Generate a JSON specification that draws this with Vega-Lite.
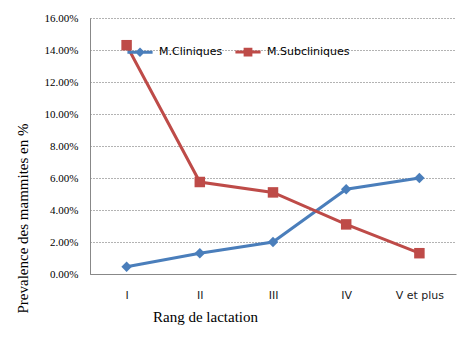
{
  "$schema": "https://vega.github.io/schema/vega-lite/v6.json",
  "width": 366,
  "height": 256,
  "autosize": {"type": "none"},
  "padding": {"left": 90, "top": 18, "right": 13, "bottom": 80},
  "background": "white",
  "config": {"view": {"stroke": null}},
  "data": {"values": [
    {"rang": "I", "serie": "M.Cliniques", "v": 0.0045},
    {"rang": "II", "serie": "M.Cliniques", "v": 0.013},
    {"rang": "III", "serie": "M.Cliniques", "v": 0.020},
    {"rang": "IV", "serie": "M.Cliniques", "v": 0.053},
    {"rang": "V et plus", "serie": "M.Cliniques", "v": 0.060},
    {"rang": "I", "serie": "M.Subcliniques", "v": 0.143},
    {"rang": "II", "serie": "M.Subcliniques", "v": 0.0575},
    {"rang": "III", "serie": "M.Subcliniques", "v": 0.051},
    {"rang": "IV", "serie": "M.Subcliniques", "v": 0.031},
    {"rang": "V et plus", "serie": "M.Subcliniques", "v": 0.013}
  ]},
  "encoding": {
    "x": {"field": "rang", "type": "ordinal", "sort": null,
      "scale": {"type": "point", "padding": 0.5},
      "axis": {"title": "Rang de lactation", "labelAngle": 0, "ticks": false, "grid": false,
        "domainColor": "#888", "labelFont": "DejaVu Sans", "labelFontSize": 11, "labelColor": "#222",
        "labelPadding": 15, "titleFont": "Liberation Serif", "titleFontSize": 15, "titleFontWeight": "normal",
        "titleColor": "#000", "titleX": 115, "titleY": 42, "titleBaseline": "middle", "titleAlign": "center"}},
    "y": {"field": "v", "type": "quantitative",
      "scale": {"domain": [0, 0.16]},
      "axis": {"title": "Prevalence  des mammites en %", "format": ".2%", "values": [0,0.02,0.04,0.06,0.08,0.10,0.12,0.14,0.16],
        "labelOverlap": false, "ticks": false, "domainColor": "#888", "gridColor": "#666", "gridDash": [1, 2], "gridOpacity": 1,
        "labelFont": "Liberation Serif", "labelFontSize": 11, "labelColor": "#000", "labelPadding": 12,
        "titleFont": "Liberation Serif", "titleFontSize": 15, "titleFontWeight": "normal", "titleColor": "#000",
        "titleAngle": -90, "titleX": -68, "titleY": 200, "titleAlign": "center", "titleBaseline": "middle"}},
    "color": {"field": "serie", "type": "nominal",
      "scale": {"domain": ["M.Cliniques", "M.Subcliniques"], "range": ["#4A7EBB", "#BE4B48"]}}
  },
  "layer": [
    {"mark": {"type": "line", "strokeWidth": 3},
     "encoding": {"color": {"field": "serie", "type": "nominal",
       "scale": {"domain": ["M.Cliniques", "M.Subcliniques"], "range": ["#4A7EBB", "#BE4B48"]},
       "legend": {"title": null, "orient": "none", "direction": "horizontal", "legendX": 43, "legendY": 27,
           "symbolSize": 110, "symbolStrokeWidth": 3, "labelOffset": 12,
           "columnPadding": 6, "labelFont": "DejaVu Sans", "labelFontSize": 11, "labelColor": "#000",
           "encode": {"symbols": {"update": {
             "fill": {"signal": "datum.value === 'M.Cliniques' ? '#4A7EBB' : '#BE4B48'"},
             "stroke": {"signal": "datum.value === 'M.Cliniques' ? '#4A7EBB' : '#BE4B48'"},
             "strokeWidth": {"value": 3},
             "size": {"value": 110},
             "shape": {"signal": "datum.value === 'M.Cliniques' ? 'M-2.4,0H2.4M0,-0.5L0.5,0L0,0.5L-0.5,0Z' : 'M-2.4,0H2.4M-0.55,-0.55H0.55V0.55H-0.55Z'"}
           }}}}}}},
    {"transform": [{"filter": "datum.serie === 'M.Cliniques'"}],
     "mark": {"type": "point", "filled": true, "opacity": 1, "size": 110, "shape": "diamond"},
     "encoding": {"color": {"field": "serie", "type": "nominal", "legend": null}}},
    {"transform": [{"filter": "datum.serie === 'M.Subcliniques'"}],
     "mark": {"type": "point", "filled": true, "opacity": 1, "size": 110, "shape": "square"},
     "encoding": {"color": {"field": "serie", "type": "nominal", "legend": null}}}
  ]
}
